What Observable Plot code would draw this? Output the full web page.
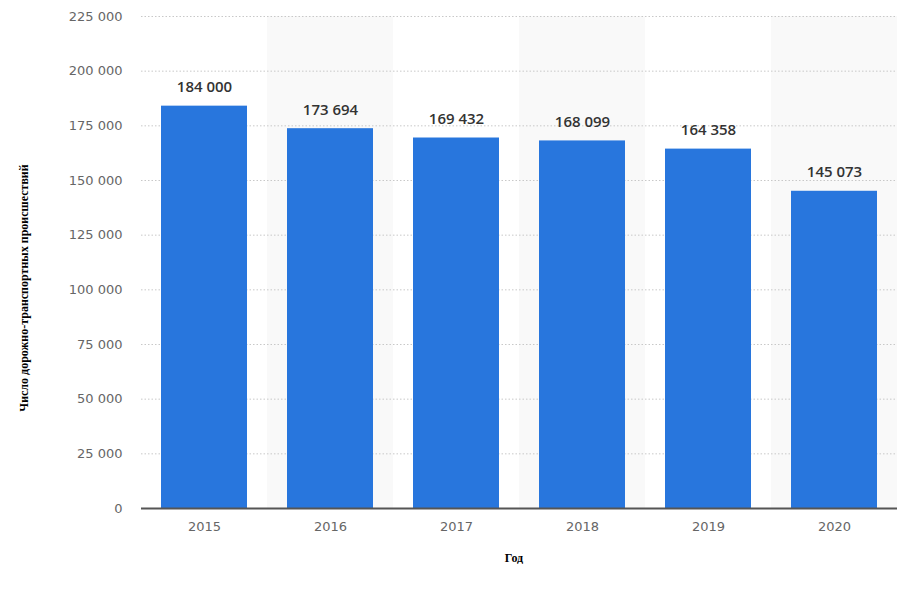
<!DOCTYPE html>
<html>
<head>
<meta charset="utf-8">
<script src="https://cdn.jsdelivr.net/npm/d3@7"></script>
<script src="https://cdn.jsdelivr.net/npm/@observablehq/plot@0.6"></script>
<style>
  html, body { margin: 0; padding: 0; background: #fff; }
  #chart { width: 914px; height: 605px; }
</style>
</head>
<body>
<div id="chart"></div>
<script>
const years = ["2015", "2016", "2017", "2018", "2019", "2020"];
const accidents = [184000, 173694, 169432, 168099, 164358, 145073];
const yTicks = [0, 25000, 50000, 75000, 100000, 125000, 150000, 175000, 200000, 225000];
const yTitle = "Число дорожно-транспортных происшествий";
const xTitle = "Год";

const fmt = d3.formatLocale({decimal: ",", thousands: " ", grouping: [3]}).format(",d");
const data = years.map((y, i) => ({year: y, value: accidents[i]}));
const shaded = years.filter((y, i) => i % 2 === 1).map(y => ({year: y}));

const W = 914, H = 605;
const chart = Plot.plot({
  width: W,
  height: H,
  marginLeft: 141,
  marginRight: 17,
  marginTop: 16,
  marginBottom: 97,
  style: {fontFamily: "DejaVu Sans", fontSize: "13px", color: "#666", background: "#fff"},
  x: {domain: years, padding: 0, label: null, tickSize: 0, tickPadding: 13},
  y: {domain: [0, 225000], ticks: yTicks, tickFormat: fmt, label: null, tickSize: 0, tickPadding: 19},
  marks: [
    Plot.barY(shaded, {x: "year", y1: 0, y2: 225000, fill: "#f9f9f9"}),
    Plot.gridY(yTicks, {stroke: "#c8c8c8", strokeOpacity: 1, strokeDasharray: "1.5,2"}),
    Plot.barY(data, {x: "year", y: "value", fill: "#2876dd", insetLeft: 20, insetRight: 20}),
    Plot.ruleY([0], {stroke: "#555", strokeWidth: 2}),
    Plot.text(data, {x: "year", y: "value", text: d => fmt(d.value), dy: -19, fill: "#333", fontFamily: "Open Sans", fontWeight: 600, fontSize: 15}),
    Plot.axisX({tickSize: 0, tickPadding: 13, fill: "#666", fontSize: 13}),
    Plot.axisY({ticks: yTicks, tickFormat: fmt, tickSize: 0, tickPadding: 19, fill: "#666", fontSize: 13})
  ]
});

// axis titles as real text in the SVG
const svg = d3.select(chart);
svg.append("text")
  .attr("x", 514).attr("y", 562)
  .attr("text-anchor", "middle")
  .attr("font-family", "Liberation Serif, DejaVu Serif, serif")
  .attr("font-weight", "bold")
  .attr("font-size", 12)
  .attr("fill", "#000")
  .text(xTitle);
svg.append("text")
  .attr("transform", "translate(28,288) rotate(-90)")
  .attr("text-anchor", "middle")
  .attr("font-family", "Liberation Serif, DejaVu Serif, serif")
  .attr("font-weight", "bold")
  .attr("font-size", 12)
  .attr("fill", "#000")
  .text(yTitle);

document.getElementById("chart").appendChild(chart);
</script>
</body>
</html>
